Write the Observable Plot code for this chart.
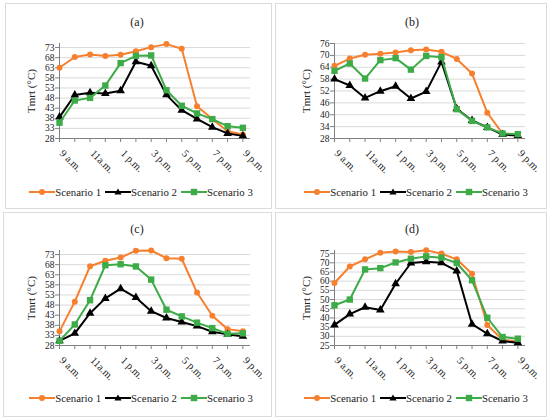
<!DOCTYPE html>
<html>
<head>
<meta charset="utf-8">
<script src="https://cdn.jsdelivr.net/npm/d3@7"></script>
<script src="https://cdn.jsdelivr.net/npm/@observablehq/plot@0.6"></script>
<style>
  html, body { margin: 0; padding: 0; background: #fff; }
  #wrap { position: relative; width: 550px; height: 420px; background: #fff; overflow: hidden;
          font-family: "Liberation Serif", "DejaVu Serif", serif; color: #222; }
  .box { position: absolute; border: 1px solid #dcdcdc; box-sizing: border-box; }
  .title { position: absolute; width: 100px; text-align: center; font-size: 12px; line-height: 14px; }
  .plot { position: absolute; }
  .legend { position: absolute; display: flex; align-items: center; justify-content: center;
            font-size: 10.8px; line-height: 12px; white-space: nowrap; }
  .legend .item { display: flex; align-items: center; margin: 0 2px; }
  .legend svg { display: block; margin-right: 0px; }
</style>
</head>
<body>
<div id="wrap"></div>
<script>
// ---------- data ----------
const hours = [9, 10, 11, 12, 13, 14, 15, 16, 17, 18, 19, 20, 21];
const labelHours = [9, 11, 13, 15, 17, 19, 21];
const labelTexts = ["9 a.m.", "11a.m.", "1 p.m.", "3 p.m.", "5 p.m.", "7 p.m.", "9 p.m."];
const seriesNames = ["Scenario 1", "Scenario 2", "Scenario 3"];
const panelLabels = ["(a)", "(b)", "(c)", "(d)"];
const yLabel = "Tmrt (°C)";

const a1 = [63, 68.3, 69.6, 68.8, 69.4, 71.2, 73.2, 74.7, 72.4, 44, 37.6, 31.6, 30];
const a2 = [38.6, 49.5, 50.6, 50.3, 51.6, 66, 64, 49.6, 42, 37.7, 33.6, 30.5, 29.3];
const a3 = [35.8, 46.8, 48.1, 54.2, 65.3, 68.9, 69.1, 51.9, 44.2, 40.4, 37.6, 34.1, 33.3];

const b1 = [64.7, 68.4, 70.3, 70.8, 71.4, 72.6, 73, 71.8, 68.2, 60.8, 41, 30.5, 29.7];
const b2 = [58, 54.8, 48.5, 51.9, 54.4, 48.2, 51.7, 66.7, 43, 37.1, 33.6, 30, 29.5];
const b3 = [62.2, 65.9, 58.3, 67.6, 68.6, 62.8, 69.7, 69.1, 42.8, 36.9, 33.6, 30.5, 30.2];

const c1 = [35, 49.7, 67.2, 69.9, 71.5, 74.9, 75, 71.2, 70.9, 54.2, 42.7, 36.1, 35.1];
const c2 = [30.3, 34, 44, 51.3, 56.1, 51.7, 45, 41.6, 39.6, 37.6, 34.8, 33.5, 32.6];
const c3 = [30.3, 38.4, 50.4, 67.7, 68.2, 67.1, 60.6, 45.7, 42.4, 39.3, 36.6, 33.8, 34];

const d1 = [59, 68, 71.9, 75.5, 76.1, 75.9, 76.8, 75, 71.9, 64, 36.2, 28.1, 27.2];
const d2 = [36.2, 42.1, 45.8, 44.3, 58.6, 69.9, 70.6, 70, 65.6, 36.6, 31.4, 27.4, 26.5];
const d3v = [46.9, 50, 66.4, 67.1, 70.2, 72.2, 73.5, 72.8, 69.9, 60.5, 40.1, 29.6, 28.7];

const yTicksA = [28, 33, 38, 43, 48, 53, 58, 63, 68, 73];
const yTicksB = [28, 34, 40, 46, 52, 58, 64, 70, 76];
const yTicksC = [28, 33, 38, 43, 48, 53, 58, 63, 68, 73];
const yTicksD = [25, 30, 35, 40, 45, 50, 55, 60, 65, 70, 75];

const yDomainA = [28, 75];
const yDomainB = [28, 76];
const yDomainC = [28, 75];
const yDomainD = [25, 76.7];

// ---------- style ----------
const colors = ["#f7802f", "#000000", "#3cab48"];
const symbols = ["circle", "triangle", "square"];
const radii = [3, 3.2, 3.6];
const FONT = "'Liberation Serif', 'DejaVu Serif', serif";

const wrap = document.getElementById("wrap");
const NS = "http://www.w3.org/2000/svg";

function addBox(left, top, w, h) {
  const b = document.createElement("div");
  b.className = "box";
  Object.assign(b.style, { left: left + "px", top: top + "px", width: w + "px", height: h + "px" });
  wrap.appendChild(b);
}

function el(tag, attrs) {
  const e = document.createElementNS(NS, tag);
  for (const k in attrs) e.setAttribute(k, attrs[k]);
  return e;
}

function legendSwatch(i) {
  const w = 26, h = 10, cx = 13, cy = 5;
  const svg = el("svg", { width: w, height: h });
  svg.appendChild(el("line", { x1: 0, x2: w, y1: cy, y2: cy, stroke: colors[i], "stroke-width": 2 }));
  if (i === 0) svg.appendChild(el("circle", { cx, cy, r: 3, fill: colors[i] }));
  if (i === 1) svg.appendChild(el("polygon", { points: `${cx},${cy - 3.6} ${cx + 3.6},${cy + 2.6} ${cx - 3.6},${cy + 2.6}`, fill: colors[i] }));
  if (i === 2) svg.appendChild(el("rect", { x: cx - 3.2, y: cy - 3.2, width: 6.4, height: 6.4, fill: colors[i] }));
  return svg;
}

function panel(colLeft, plotTop, titleTop, legendTop, label, series, yDomain, yTicks) {
  const t = document.createElement("div");
  t.className = "title";
  t.textContent = label;
  t.style.left = (colLeft + 137 - 50) + "px";
  t.style.top = titleTop + "px";
  wrap.appendChild(t);

  const marks = [
    Plot.gridY(yTicks, { stroke: "#d9d9d9", strokeOpacity: 1 }),
    Plot.ruleY([yDomain[0]], { stroke: "#808080" }),
    Plot.ruleX([9], { stroke: "#808080" }),
    Plot.axisY({ ticks: yTicks, tickSize: 4, tickPadding: 1, stroke: "#808080", fontSize: 9.5,
                 label: null }),
    Plot.axisY({ ticks: [], tickSize: 0, label: yLabel, labelAnchor: "center", labelArrow: "none",
                 labelOffset: 32, fontSize: 11 }),
    Plot.axisX({ ticks: hours, tickSize: 4, stroke: "#808080", tickFormat: () => "", label: null }),
    Plot.axisX({ ticks: labelHours, tickSize: 0, tickPadding: 13, tickRotate: 45, fontSize: 10.5, dx: 2,
                 tickFormat: (h) => labelTexts[labelHours.indexOf(h)], label: null })
  ];
  series.forEach((vals, i) => {
    const rows = hours.map((h, k) => ({ h, v: vals[k] }));
    marks.push(Plot.line(rows, { x: "h", y: "v", stroke: colors[i], strokeWidth: 2 }));
    marks.push(Plot.dot(rows, { x: "h", y: "v", fill: colors[i], symbol: symbols[i], r: radii[i] }));
  });

  const svg = Plot.plot({
    width: 275, height: 150,
    marginLeft: 59, marginRight: 25, marginTop: 13, marginBottom: 42,
    style: { fontFamily: FONT, fontSize: "10px", color: "#222", background: "transparent", overflow: "visible" },
    x: { type: "linear", domain: [9, 21.5] },
    y: { domain: yDomain },
    marks
  });
  svg.classList.add("plot");
  svg.style.left = colLeft + "px";
  svg.style.top = plotTop + "px";
  wrap.appendChild(svg);

  const lg = document.createElement("div");
  lg.className = "legend";
  lg.style.left = (colLeft + 141 - 140) + "px";
  lg.style.width = "280px";
  lg.style.top = legendTop + "px";
  seriesNames.forEach((n, i) => {
    const it = document.createElement("div");
    it.className = "item";
    it.appendChild(legendSwatch(i));
    const s = document.createElement("span");
    s.textContent = n;
    it.appendChild(s);
    lg.appendChild(it);
  });
  wrap.appendChild(lg);
}

addBox(5, 3, 267, 206);
addBox(275, 3, 272, 206);
addBox(3, 212, 269, 205);
addBox(275, 212, 272, 205);

panel(0, 30, 15, 186, panelLabels[0], [a1, a2, a3], yDomainA, yTicksA);
panel(275, 30, 15, 186, panelLabels[1], [b1, b2, b3], yDomainB, yTicksB);
panel(0, 237, 222, 392, panelLabels[2], [c1, c2, c3], yDomainC, yTicksC);
panel(275, 237, 222, 392, panelLabels[3], [d1, d2, d3v], yDomainD, yTicksD);
</script>
</body>
</html>
